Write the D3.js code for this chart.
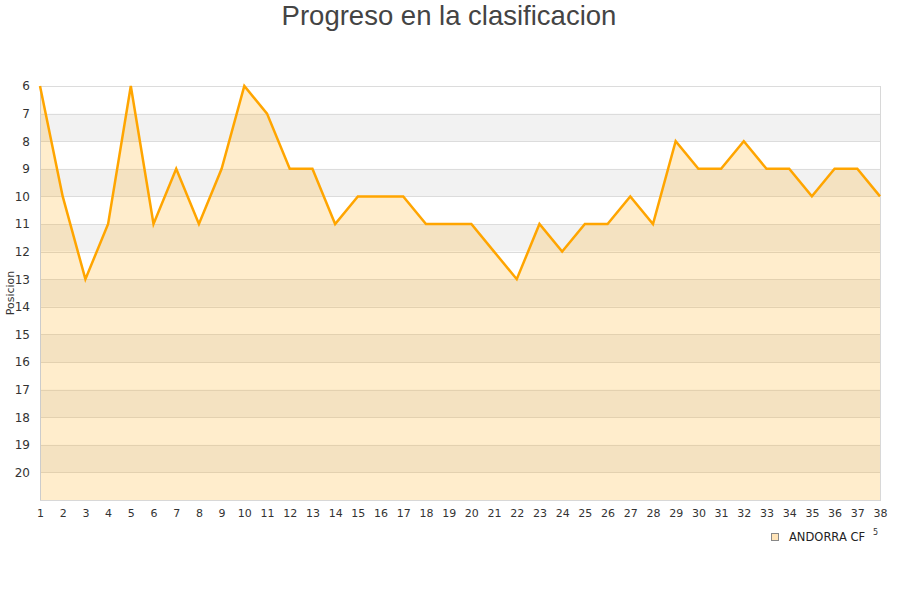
<!DOCTYPE html>
<html><head><meta charset="utf-8">
<script src="https://cdn.jsdelivr.net/npm/d3@7/dist/d3.min.js"></script>
<style>body{margin:0;background:#fff;} svg{display:block;}</style>
</head><body>
<svg id="c" width="900" height="600"></svg>
<script>
const jornadas = d3.range(1, 39);
const posiciones = [6,10,13,11,6,11,9,11,9,6,7,9,9,11,10,10,10,11,11,11,12,13,11,12,11,11,10,11,8,9,9,8,9,9,10,9,9,10];
const yTicks = [6,7,8,9,10,11,12,13,14,15,16,17,18,19,20];
const titulo = "Progreso en la clasificacion";
const equipo = "ANDORRA CF";

const svg = d3.select("#c");
const L = 40, R = 880, T = 86, B = 500;
const x = d3.scaleLinear().domain([1, 38]).range([L, R]);
const y = d3.scaleLinear().domain([6, 21]).range([T, B]);

// bands
const bands = d3.range(6, 21);
svg.append("g").selectAll("rect").data(bands).join("rect")
  .attr("x", L).attr("width", R - L)
  .attr("y", d => y(d)).attr("height", d => y(d + 1) - y(d))
  .attr("fill", d => d % 2 === 1 ? "#f2f2f2" : "#ffffff");

// grid lines
svg.append("g").selectAll("line").data(d3.range(6, 22)).join("line")
  .attr("x1", L).attr("x2", R)
  .attr("y1", d => Math.round(y(d)) + 0.5).attr("y2", d => Math.round(y(d)) + 0.5)
  .attr("stroke", "#dcdcdc").attr("stroke-width", 1);

const data = jornadas.map((j, i) => ({j, p: posiciones[i]}));

// area
svg.append("path").datum(data)
  .attr("d", d3.area().x(d => x(d.j)).y0(B).y1(d => y(d.p)))
  .attr("fill", "rgba(255,165,0,0.2)");

// border
svg.append("line").attr("x1", L + 0.5).attr("x2", L + 0.5).attr("y1", T).attr("y2", B)
  .attr("stroke", "#ccc");
svg.append("line").attr("x1", R + 0.5).attr("x2", R + 0.5).attr("y1", T).attr("y2", B)
  .attr("stroke", "#d8d8d8");
svg.append("line").attr("x1", L).attr("x2", R + 1).attr("y1", B + 0.5).attr("y2", B + 0.5)
  .attr("stroke", "#d8d8d8");

// line
svg.append("path").datum(data)
  .attr("d", d3.line().x(d => x(d.j)).y(d => y(d.p)))
  .attr("fill", "none").attr("stroke", "#ffa500").attr("stroke-width", 2.5)
  .attr("stroke-linejoin", "miter");

// y axis labels
const yAxis = d3.axisLeft(y).tickValues(yTicks).tickSize(0).tickPadding(10);
const gy = svg.append("g").attr("transform", `translate(${L},0)`).call(yAxis);
gy.select(".domain").remove();
gy.selectAll("text").attr("font-family", "DejaVu Sans, sans-serif").attr("font-size", 12).attr("fill", "#333");

// x axis labels
const xAxis = d3.axisBottom(x).tickValues(jornadas).tickSize(0).tickPadding(9).tickFormat(d3.format("d"));
const gx = svg.append("g").attr("transform", `translate(0,${B})`).call(xAxis);
gx.select(".domain").remove();
gx.selectAll("text").attr("font-family", "DejaVu Sans, sans-serif").attr("font-size", 11).attr("fill", "#333");

// y axis title
svg.append("text").attr("transform", "translate(14,293) rotate(-90)")
  .attr("text-anchor", "middle").attr("font-family", "DejaVu Sans, sans-serif")
  .attr("font-size", 11).attr("fill", "#333").text("Posicion");

// title
svg.append("text").attr("x", 449).attr("y", 25).attr("text-anchor", "middle")
  .attr("font-family", "Liberation Sans, Arial, sans-serif").attr("font-size", 27.5)
  .attr("fill", "#444").text(titulo);

// legend
svg.append("rect").attr("x", 771.5).attr("y", 533.5).attr("width", 7).attr("height", 7)
  .attr("fill", "#ffe4b8").attr("stroke", "#888");
svg.append("text").attr("x", 789).attr("y", 540.5).attr("font-family", "DejaVu Sans, sans-serif")
  .attr("font-size", 11.5).attr("fill", "#222").text(equipo);
svg.append("text").attr("x", 873).attr("y", 535).attr("font-family", "DejaVu Sans, sans-serif")
  .attr("font-size", 8).attr("fill", "#333").text("5");
</script>
</body></html>
